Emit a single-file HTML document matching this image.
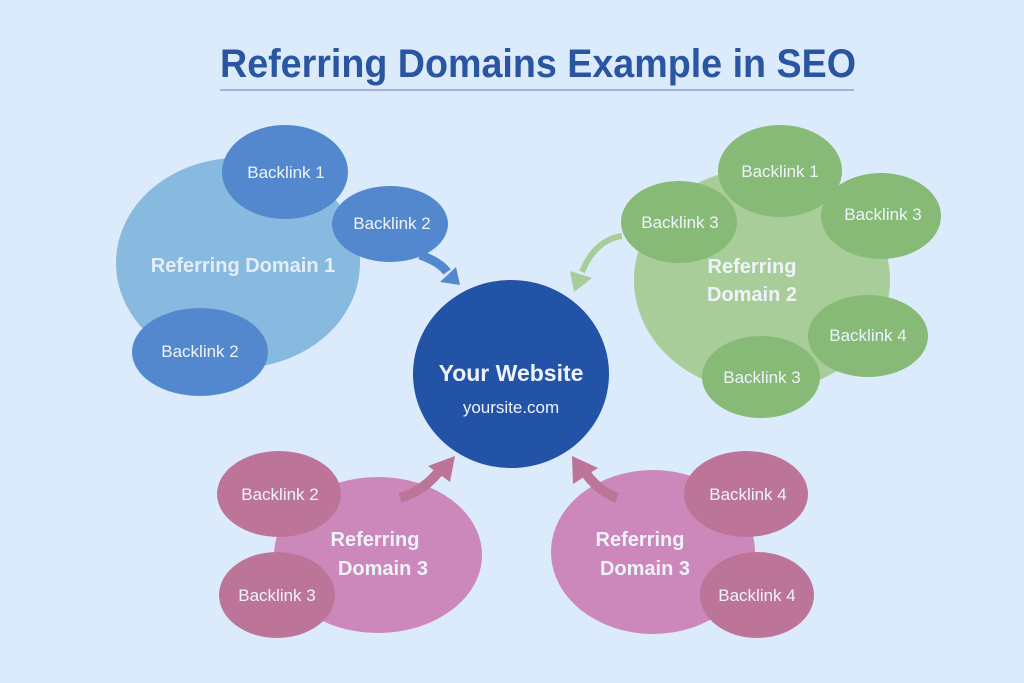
<!DOCTYPE html>
<html><head><meta charset="utf-8"><style>
html,body{margin:0;padding:0;background:#dcebfb;}
svg{display:block;}
text{font-family:"Liberation Sans",sans-serif;}
</style></head><body>
<svg width="1024" height="683" viewBox="0 0 1024 683" xmlns="http://www.w3.org/2000/svg">
<rect width="1024" height="683" fill="#dcebfb"/>
<text x="538" y="77" text-anchor="middle" font-size="40" font-weight="bold" fill="#2a55a0" textLength="636" lengthAdjust="spacingAndGlyphs">Referring Domains Example in SEO</text>
<line x1="220" y1="90" x2="854" y2="90" stroke="#9fb4dc" stroke-width="2"/>

<!-- Blue domain -->
<ellipse cx="238" cy="263" rx="122" ry="105" fill="#88b9de"/>
<ellipse cx="285" cy="172" rx="63" ry="47" fill="#5388cf"/>
<ellipse cx="390" cy="224" rx="58" ry="38" fill="#5388cf"/>
<ellipse cx="200" cy="352" rx="68" ry="44" fill="#5388cf"/>
<path d="M420 255 Q440 262 447 272" stroke="#5388cf" stroke-width="9" fill="none"/>
<polygon points="440,282 460,285 456,267" fill="#5388cf"/>
<text x="243" y="272" text-anchor="middle" font-size="20" font-weight="bold" fill="#e4eef8">Referring Domain 1</text>
<text x="286" y="178" text-anchor="middle" font-size="17" fill="#eef3fb">Backlink 1</text>
<text x="392" y="229" text-anchor="middle" font-size="17" fill="#eef3fb">Backlink 2</text>
<text x="200" y="357" text-anchor="middle" font-size="17" fill="#eef3fb">Backlink 2</text>

<!-- Green domain -->
<ellipse cx="762" cy="280" rx="128" ry="112" fill="#a8cd98"/>
<ellipse cx="780" cy="171" rx="62" ry="46" fill="#86ba76"/>
<ellipse cx="881" cy="216" rx="60" ry="43" fill="#86ba76"/>
<ellipse cx="679" cy="222" rx="58" ry="41" fill="#86ba76"/>
<ellipse cx="868" cy="336" rx="60" ry="41" fill="#86ba76"/>
<ellipse cx="761" cy="377" rx="59" ry="41" fill="#86ba76"/>
<path d="M622 236 Q595 240 582 272" stroke="#a8cd98" stroke-width="6" fill="none"/>
<polygon points="570,271 592,278 574,292" fill="#a8cd98"/>
<text x="752" y="273" text-anchor="middle" font-size="20" font-weight="bold" fill="#eef3fb">Referring</text>
<text x="752" y="301" text-anchor="middle" font-size="20" font-weight="bold" fill="#eef3fb">Domain 2</text>
<text x="780" y="177" text-anchor="middle" font-size="17" fill="#eef3fb">Backlink 1</text>
<text x="883" y="220" text-anchor="middle" font-size="17" fill="#eef3fb">Backlink 3</text>
<text x="680" y="228" text-anchor="middle" font-size="17" fill="#eef3fb">Backlink 3</text>
<text x="868" y="341" text-anchor="middle" font-size="17" fill="#eef3fb">Backlink 4</text>
<text x="762" y="383" text-anchor="middle" font-size="17" fill="#eef3fb">Backlink 3</text>

<!-- Center -->
<ellipse cx="511" cy="374" rx="98" ry="94" fill="#2353a6"/>
<text x="511" y="381" text-anchor="middle" font-size="23" font-weight="bold" fill="#eef3fb">Your Website</text>
<text x="511" y="413" text-anchor="middle" font-size="17" fill="#eef3fb">yoursite.com</text>

<!-- Pink left -->
<ellipse cx="378" cy="555" rx="104" ry="78" fill="#cd88bb"/>
<ellipse cx="279" cy="494" rx="62" ry="43" fill="#bc7598"/>
<ellipse cx="277" cy="595" rx="58" ry="43" fill="#bc7598"/>
<path d="M400 498 Q425 490 440 470" stroke="#bc7598" stroke-width="10" fill="none"/>
<polygon points="428,466 455,456 450,482" fill="#bc7598"/>
<text x="375" y="546" text-anchor="middle" font-size="20" font-weight="bold" fill="#eef3fb">Referring</text>
<text x="383" y="575" text-anchor="middle" font-size="20" font-weight="bold" fill="#eef3fb">Domain 3</text>
<text x="280" y="500" text-anchor="middle" font-size="17" fill="#eef3fb">Backlink 2</text>
<text x="277" y="601" text-anchor="middle" font-size="17" fill="#eef3fb">Backlink 3</text>

<!-- Pink right -->
<ellipse cx="653" cy="552" rx="102" ry="82" fill="#cd88bb"/>
<ellipse cx="746" cy="494" rx="62" ry="43" fill="#bc7598"/>
<ellipse cx="757" cy="595" rx="57" ry="43" fill="#bc7598"/>
<path d="M617 498 Q597 490 585 472" stroke="#bc7598" stroke-width="10" fill="none"/>
<polygon points="572,456 598,468 573,484" fill="#bc7598"/>
<text x="640" y="546" text-anchor="middle" font-size="20" font-weight="bold" fill="#eef3fb">Referring</text>
<text x="645" y="575" text-anchor="middle" font-size="20" font-weight="bold" fill="#eef3fb">Domain 3</text>
<text x="748" y="500" text-anchor="middle" font-size="17" fill="#eef3fb">Backlink 4</text>
<text x="757" y="601" text-anchor="middle" font-size="17" fill="#eef3fb">Backlink 4</text>
</svg>
</body></html>
